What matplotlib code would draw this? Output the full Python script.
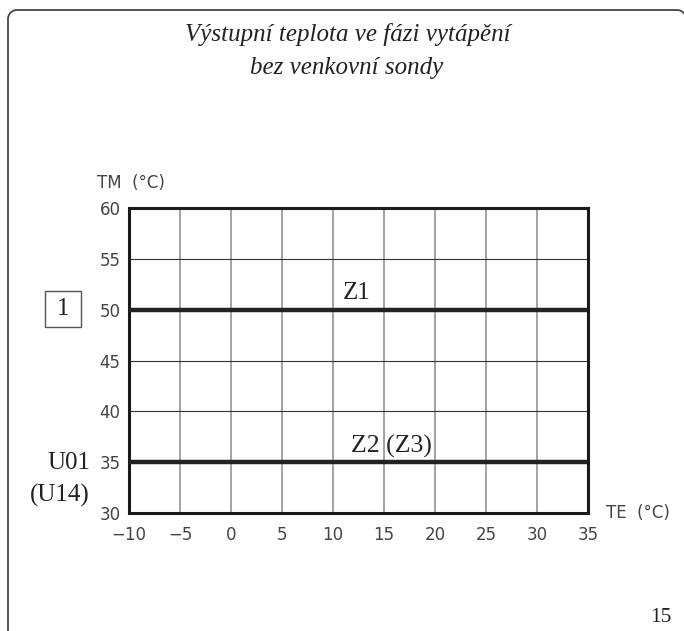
import matplotlib
matplotlib.use("Agg")
import numpy as np
import matplotlib.pyplot as plt
from matplotlib.patches import Rectangle
from matplotlib.lines import Line2D
from matplotlib.transforms import IdentityTransform

# ---- data ----
te_ticks = [-10, -5, 0, 5, 10, 15, 20, 25, 30, 35]
tm_ticks = [30, 35, 40, 45, 50, 55, 60]
te_range = [-10, 35]
z1_tm = [50, 50]
z2_tm = [35, 35]
title_lines = ["Výstupní teplota ve fázi vytápění", "bez venkovní sondy"]
curve_labels = ["Z1", "Z2 (Z3)"]
param_labels = ["U01", "(U14)"]
box_label = "1"
page_number = "15"

W, H = 684, 631
fig = plt.figure(figsize=(W / 100, H / 100), dpi=100)

def fx(px):
    return px / W

def fy(py):
    return 1 - py / H

tick_family = "DejaVu Sans"
tick_size = 12
tick_color = "#444444"

ax = fig.add_axes([fx(129), fy(513), fx(588) - fx(129), fy(208) - fy(513)])
ax.set_xlim(te_range[0], te_range[1])
ax.set_ylim(tm_ticks[0], tm_ticks[-1])
ax.set_xticks(te_ticks)
ax.set_yticks(tm_ticks)
ax.set_xticklabels([str(t).replace("-", "\u2212") for t in te_ticks])
ax.set_yticklabels([str(t) for t in tm_ticks])

for lab in ax.get_xticklabels() + ax.get_yticklabels():
    lab.set_fontfamily(tick_family)
    lab.set_fontsize(tick_size)
    lab.set_color(tick_color)
ax.tick_params(axis="x", length=0, pad=9)
ax.tick_params(axis="y", length=0, pad=6)

ax.xaxis.grid(True, color="#8a8a8a", linewidth=1.1)
ax.yaxis.grid(True, color="#333333", linewidth=0.8)
ax.set_axisbelow(True)
for s in ax.spines.values():
    s.set_linewidth(2.2)
    s.set_color("#1a1a1a")

ax.plot(te_range, z1_tm, color="#222222", linewidth=3.2, solid_capstyle="butt", zorder=3)
ax.plot(te_range, z2_tm, color="#222222", linewidth=3.2, solid_capstyle="butt", zorder=3)

serif = ["Liberation Serif", "DejaVu Serif"]
ax.text(12.3, z1_tm[0] + 0.55, curve_labels[0], family=serif, size=18, color="#222222",
        ha="center", va="bottom")
ax.text(15.7, z2_tm[0] + 0.45, curve_labels[1], family=serif, size=18.5, color="#222222",
        ha="center", va="bottom")

# axis titles
fig.text(fx(97), fy(183), "TM  (°C)", family=tick_family, size=tick_size, color=tick_color,
         ha="left", va="center")
fig.text(fx(606), fy(513), "TE  (°C)", family=tick_family, size=tick_size, color=tick_color,
         ha="left", va="center")

# title
fig.text(fx(348), fy(34), title_lines[0], family=serif, style="italic", size=18,
         color="#222222", ha="center", va="center")
fig.text(fx(347), fy(68), title_lines[1], family=serif, style="italic", size=18,
         color="#222222", ha="center", va="center")

# left labels
fig.text(fx(90), fy(463), param_labels[0], family=serif, size=18, color="#222222",
         ha="right", va="center")
fig.text(fx(90), fy(495), param_labels[1], family=serif, size=18, color="#222222",
         ha="right", va="center")

# boxed 1
fig.patches.append(Rectangle((fx(45), fy(327)), fx(81) - fx(45), fy(291) - fy(327),
                             transform=fig.transFigure, fill=False, edgecolor="#555555",
                             linewidth=1.0))
fig.text(fx(63), fy(309), box_label, family=serif, size=18, color="#222222",
         ha="center", va="center")

# page number
fig.text(fx(672), fy(618), page_number, family=serif, size=15.5, color="#222222",
         ha="right", va="center")

# page frame: left edge, rounded top-left corner, top edge, rounded top-right corner
r = 9.0
x_left, x_right, y_top = 8.0, 686.0, 10.0
t1 = np.linspace(np.pi, np.pi / 2, 20)
t2 = np.linspace(np.pi / 2, 0, 20)
xs = np.concatenate([[x_left], x_left + r + r * np.cos(t1), x_right - r + r * np.cos(t2)])
ys_px = np.concatenate([[H + 20], y_top + r - r * np.sin(t1), y_top + r - r * np.sin(t2)])
frame = Line2D(xs, H - ys_px, transform=IdentityTransform(), color="#444444",
               linewidth=1.3, solid_joinstyle="round")
fig.lines.append(frame)

fig.savefig("out.png", dpi=100)
